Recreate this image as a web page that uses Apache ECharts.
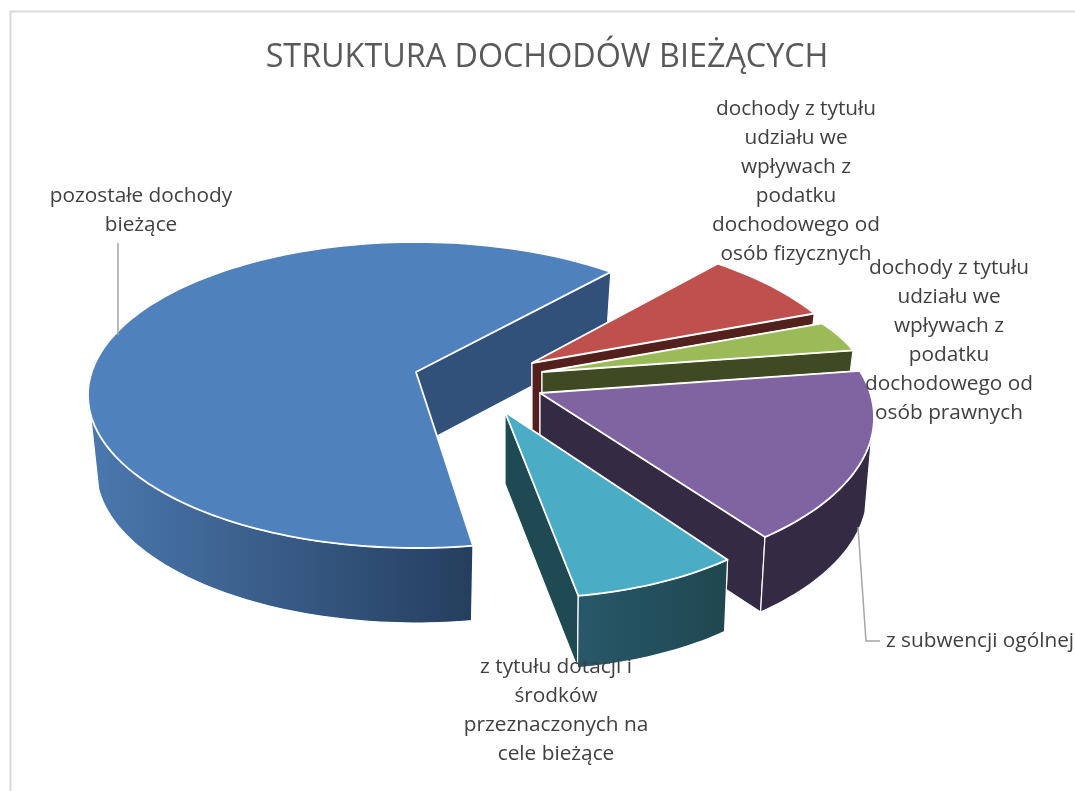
<!DOCTYPE html>
<html><head><meta charset="utf-8">
<style>html,body{margin:0;padding:0;background:#fff}#c{width:1075px;height:791px}</style>
<script src="https://cdn.jsdelivr.net/npm/echarts@6/dist/echarts.min.js"></script>
</head><body><div id="c"></div>
<script>
const chartTitle = 'STRUKTURA DOCHODÓW BIEŻĄCYCH';
const categories = ['pozostałe dochody bieżące',
  'dochody z tytułu udziału we wpływach z podatku dochodowego od osób fizycznych',
  'dochody z tytułu udziału we wpływach z podatku dochodowego od osób prawnych',
  'z subwencji ogólnej',
  'z tytułu dotacji i środków przeznaczonych na cele bieżące'];
const shares = [62.9, 6.6, 3.6, 18.0, 8.9];
const labelLines = [
  ['pozostałe dochody','bieżące'],
  ['dochody z tytułu','udziału we','wpływach z','podatku','dochodowego od','osób fizycznych'],
  ['dochody z tytułu','udziału we','wpływach z','podatku','dochodowego od','osób prawnych'],
  ['z subwencji ogólnej'],
  ['z tytułu dotacji i','środków','przeznaczonych na','cele bieżące']
];
const topColors = ['#4f81bd','#c0504d','#9bbb59','#8064a2','#4bacc6'];
const wallColors = ['#31517a','#54201e','#3f4a22','#342a44','#1f4a53'];
const arcGradients = [['#4a78ae','#253e5e'],['#54201e','#54201e'],['#3f4a22','#3f4a22'],['#342a44','#342a44'],['#28586a','#1f474f']];

// projection of each exploded slice: ellipse, apex, depth
const frames = [
  {cx:416,cy:395,rx:328,ry:153,ax:416,ay:372,d:75,k:.975},
  {cx:508,cy:394,rx:353,ry:162,ax:532,ay:363,d:75,k:.97},
  {cx:520,cy:388,rx:348,ry:130,ax:542,ay:372,d:75,k:.97},
  {cx:544,cy:417.5,rx:330,ry:161,ax:540,ay:393,d:75,k:.98},
  {cx:526,cy:449,rx:301,ry:149,ax:505,ay:412,d:72,k:.985}
];
const labelAnchors = [[141,196],[796,109],[949,268],[980,641],[556,667]];
const labelLineHeight = 29;
const leaders = [[[118,243],[118,335]],[[858,527],[866,641],[880,641]]];
const startDeg = 280;
const total = shares.reduce((a,b)=>a+b,0);

const RAD = Math.PI/180;
function rim(f,t){return [f.cx+f.rx*Math.cos(t*RAD), f.cy-f.ry*Math.sin(t*RAD)];}
function down(f,p){return [f.cx+(p[0]-f.cx)*f.k, p[1]+f.d];}
function arc(f,a,b){const n=Math.max(2,Math.ceil(Math.abs(a-b)/1.5));const r=[];for(let i=0;i<=n;i++)r.push(rim(f,a+(b-a)*i/n));return r;}
const wallEdge={stroke:'#ffffff',lineWidth:1.2,lineJoin:'round'};
const topEdge={stroke:'#ffffff',lineWidth:1.8,lineJoin:'round'};

function renderSlice(params,api){
  const i=params.dataIndex, f=frames[i];
  let before=0; for(let j=0;j<i;j++) before+=shares[j];
  const a=startDeg-before/total*360, b=a-api.value(0)/total*360;
  const apex=[f.ax,f.ay], apexD=[f.ax,f.ay+f.d];
  const kids=[];
  [a,b].forEach(t=>{
    const p=rim(f,t);
    kids.push({type:'polygon',shape:{points:[apex,p,down(f,p),apexD]},style:Object.assign({fill:wallColors[i]},wallEdge)});
  });
  // front wall: only where the rim faces the viewer
  let na=((a%360)+360)%360; if(na<187) na+=360;
  const nb=na-(a-b);
  const s=Math.min(na,353), e=Math.max(nb,187);
  if(s>e){
    const up=arc(f,s,e), dn=up.map(p=>down(f,p)).reverse();
    kids.push({type:'polygon',shape:{points:up.concat(dn)},style:Object.assign({
      fill:new echarts.graphic.LinearGradient(0,0,1,0,[{offset:0,color:arcGradients[i][0]},{offset:1,color:arcGradients[i][1]}])},wallEdge)});
  }
  kids.push({type:'polygon',shape:{points:[apex].concat(arc(f,a,b))},style:Object.assign({fill:topColors[i]},topEdge)});
  return {type:'group',children:kids};
}
function renderLabels(params,api){
  const i=params.dataIndex, at=labelAnchors[i], kids=[];
  labelLines[i].forEach((t,n)=>kids.push({type:'text',x:at[0],y:at[1]+n*labelLineHeight,
    style:{text:t,fill:'#404040',font:'20.8px "Open Sans"',align:'center',verticalAlign:'middle'}}));
  return {type:'group',children:kids};
}
function renderLeaders(params,api){
  return {type:'polyline',shape:{points:leaders[params.dataIndex]},style:{stroke:'#a6a6a6',lineWidth:1.5,fill:null}};
}
const chart=echarts.init(document.getElementById('c'),null,{renderer:'canvas'});
chart.setOption({
  animation:false,
  backgroundColor:'#ffffff',
  title:{text:chartTitle,left:547,top:58,textAlign:'center',textVerticalAlign:'middle',
    textStyle:{fontFamily:'"Open Sans"',fontSize:32.3,fontWeight:'normal',color:'#595959'},padding:0},
  graphic:[{type:'polyline',shape:{points:[[10.5,791],[10.5,11.5],[1075,11.5]]},style:{stroke:'#d9d9d9',lineWidth:2,fill:null},silent:true}],
  series:[
    {type:'custom',coordinateSystem:'none',renderItem:renderSlice,silent:true,clip:false,
      data:categories.map((c,i)=>({name:c,value:[shares[i]]})),z:2},
    {type:'custom',coordinateSystem:'none',renderItem:renderLeaders,silent:true,data:leaders.map((l,i)=>[i]),z:3},
    {type:'custom',coordinateSystem:'none',renderItem:renderLabels,silent:true,
      data:categories.map((c,i)=>({name:c,value:[shares[i]]})),z:4}
  ]
});
</script></body></html>
